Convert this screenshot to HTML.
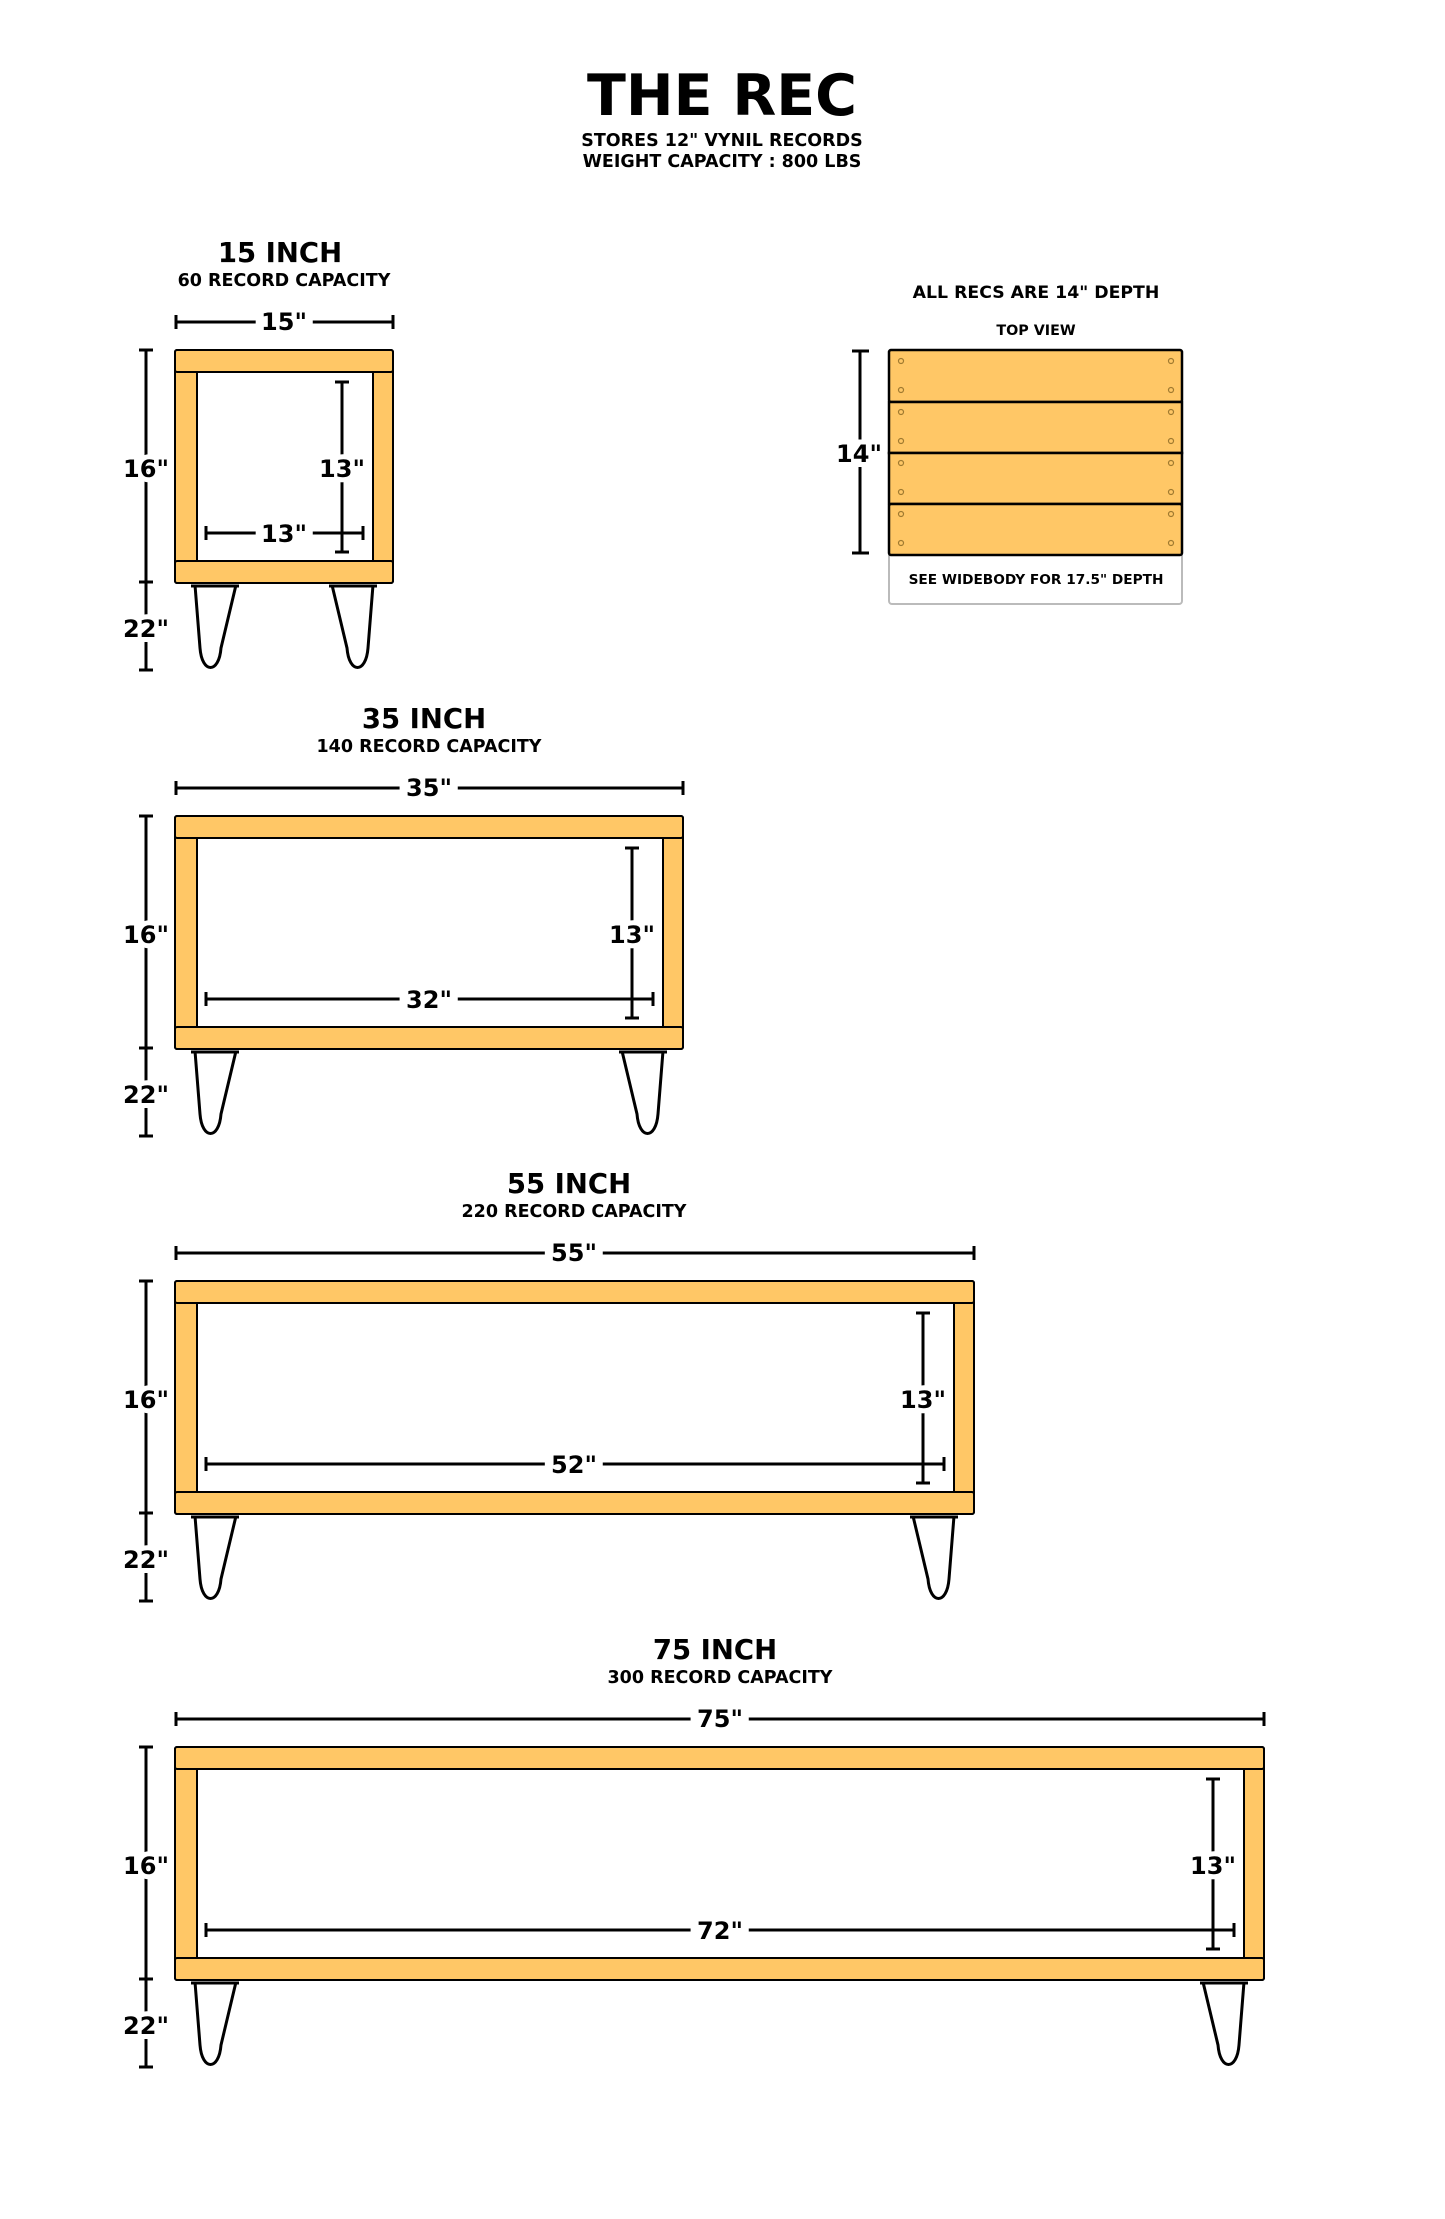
<!DOCTYPE html>
<html><head><meta charset="utf-8"><style>
html,body{margin:0;padding:0;background:#fff}
svg{display:block}
text{font-family:"DejaVu Sans","Liberation Sans",sans-serif;font-weight:bold;fill:#000;text-anchor:middle}
.l{stroke:#fff;stroke-width:16;paint-order:stroke;stroke-linejoin:miter}
.v{stroke:#fff;stroke-width:10;paint-order:stroke;stroke-linejoin:miter}
</style></head><body>
<svg width="1445" height="2219" viewBox="0 0 1445 2219" xmlns="http://www.w3.org/2000/svg">
<text x="722" y="115" font-size="57">THE REC</text>
<text x="722" y="146" font-size="17.5">STORES 12" VYNIL RECORDS</text>
<text x="722" y="167" font-size="17.5">WEIGHT CAPACITY : 800 LBS</text>

<!-- top view -->
<text x="1036" y="298" font-size="17.3">ALL RECS ARE 14" DEPTH</text>
<text x="1036" y="335" font-size="14.3">TOP VIEW</text>
<rect x="889" y="350" width="293" height="254" rx="3" fill="#fff" stroke="#bbb" stroke-width="2"/>
<g stroke="#000" stroke-width="2.5" fill="#FFC766">
<rect x="889" y="350" width="293" height="52" rx="2"/>
<rect x="889" y="402" width="293" height="51"/>
<rect x="889" y="453" width="293" height="51"/>
<rect x="889" y="504" width="293" height="51" rx="2"/>
</g>
<g fill="none" stroke="#a07a30" stroke-width="1.2">
<circle cx="901" cy="361" r="2.5"/><circle cx="1171" cy="361" r="2.5"/><circle cx="901" cy="390" r="2.5"/><circle cx="1171" cy="390" r="2.5"/>
<circle cx="901" cy="412" r="2.5"/><circle cx="1171" cy="412" r="2.5"/><circle cx="901" cy="441" r="2.5"/><circle cx="1171" cy="441" r="2.5"/>
<circle cx="901" cy="463" r="2.5"/><circle cx="1171" cy="463" r="2.5"/><circle cx="901" cy="492" r="2.5"/><circle cx="1171" cy="492" r="2.5"/>
<circle cx="901" cy="514" r="2.5"/><circle cx="1171" cy="514" r="2.5"/><circle cx="901" cy="543" r="2.5"/><circle cx="1171" cy="543" r="2.5"/>
</g>
<text x="1036" y="584" font-size="13.7">SEE WIDEBODY FOR 17.5" DEPTH</text>
<g stroke="#000" stroke-width="3"><line x1="860" y1="351" x2="860" y2="553"/><line x1="852" y1="351" x2="869" y2="351"/><line x1="852" y1="553" x2="869" y2="553"/></g>
<text class="v" x="859" y="462" font-size="24">14"</text>

<!-- 15 -->
<g>
<text x="280" y="262" font-size="27.5">15 INCH</text>
<text x="284" y="286" font-size="17.5">60 RECORD CAPACITY</text>
<g stroke="#000" stroke-width="3" fill="none">
<line x1="176" y1="322" x2="393" y2="322"/><line x1="176" y1="315" x2="176" y2="329"/><line x1="393" y1="315" x2="393" y2="329"/>
</g>
<text class="l" x="284" y="330" font-size="24">15"</text>
<g stroke="#000" stroke-width="2" fill="#FFC766">
<rect x="175" y="350" width="218" height="233" rx="2"/>
<rect x="197" y="372" width="176" height="189" fill="#fff"/>
<rect x="175" y="350" width="218" height="22" rx="2"/>
<rect x="175" y="561" width="218" height="22" rx="2"/>
</g>
<g stroke="#000" stroke-width="3" fill="none">
<line x1="191" y1="586" x2="239" y2="586"/><line x1="329" y1="586" x2="377" y2="586"/>
<path d="M195 585 L200 648 C202 674 219 674 221 648 L236 585"/>
<path d="M332 585 L347 648 C349 674 366 674 368 648 L373 585"/>
<line x1="146" y1="350" x2="146" y2="670"/><line x1="139" y1="350" x2="153" y2="350"/><line x1="139" y1="582" x2="153" y2="582"/><line x1="139" y1="670" x2="153" y2="670"/>
<line x1="342" y1="382" x2="342" y2="552"/><line x1="335" y1="382" x2="349" y2="382"/><line x1="335" y1="552" x2="349" y2="552"/>
<line x1="206" y1="533" x2="363" y2="533"/><line x1="206" y1="526" x2="206" y2="540"/><line x1="363" y1="526" x2="363" y2="540"/>
</g>
<text class="v" x="146" y="477" font-size="24">16"</text>
<text class="v" x="146" y="637" font-size="24">22"</text>
<text class="v" x="342" y="477" font-size="24">13"</text>
<text class="l" x="284" y="542" font-size="24">13"</text>
</g>

<!-- 35 -->
<g transform="translate(0,466)">
<text x="424" y="262" font-size="27.5">35 INCH</text>
<text x="429" y="286" font-size="17.5">140 RECORD CAPACITY</text>
<g stroke="#000" stroke-width="3" fill="none">
<line x1="176" y1="322" x2="683" y2="322"/><line x1="176" y1="315" x2="176" y2="329"/><line x1="683" y1="315" x2="683" y2="329"/>
</g>
<text class="l" x="429" y="330" font-size="24">35"</text>
<g stroke="#000" stroke-width="2" fill="#FFC766">
<rect x="175" y="350" width="508" height="233" rx="2"/>
<rect x="197" y="372" width="466" height="189" fill="#fff"/>
<rect x="175" y="350" width="508" height="22" rx="2"/>
<rect x="175" y="561" width="508" height="22" rx="2"/>
</g>
<g stroke="#000" stroke-width="3" fill="none">
<line x1="191" y1="586" x2="239" y2="586"/><line x1="619" y1="586" x2="667" y2="586"/>
<path d="M195 585 L200 648 C202 674 219 674 221 648 L236 585"/>
<path d="M622 585 L637 648 C639 674 656 674 658 648 L663 585"/>
<line x1="146" y1="350" x2="146" y2="670"/><line x1="139" y1="350" x2="153" y2="350"/><line x1="139" y1="582" x2="153" y2="582"/><line x1="139" y1="670" x2="153" y2="670"/>
<line x1="632" y1="382" x2="632" y2="552"/><line x1="625" y1="382" x2="639" y2="382"/><line x1="625" y1="552" x2="639" y2="552"/>
<line x1="206" y1="533" x2="653" y2="533"/><line x1="206" y1="526" x2="206" y2="540"/><line x1="653" y1="526" x2="653" y2="540"/>
</g>
<text class="v" x="146" y="477" font-size="24">16"</text>
<text class="v" x="146" y="637" font-size="24">22"</text>
<text class="v" x="632" y="477" font-size="24">13"</text>
<text class="l" x="429" y="542" font-size="24">32"</text>
</g>

<!-- 55 -->
<g transform="translate(0,931)">
<text x="569" y="262" font-size="27.5">55 INCH</text>
<text x="574" y="286" font-size="17.5">220 RECORD CAPACITY</text>
<g stroke="#000" stroke-width="3" fill="none">
<line x1="176" y1="322" x2="974" y2="322"/><line x1="176" y1="315" x2="176" y2="329"/><line x1="974" y1="315" x2="974" y2="329"/>
</g>
<text class="l" x="574" y="330" font-size="24">55"</text>
<g stroke="#000" stroke-width="2" fill="#FFC766">
<rect x="175" y="350" width="799" height="233" rx="2"/>
<rect x="197" y="372" width="757" height="189" fill="#fff"/>
<rect x="175" y="350" width="799" height="22" rx="2"/>
<rect x="175" y="561" width="799" height="22" rx="2"/>
</g>
<g stroke="#000" stroke-width="3" fill="none">
<line x1="191" y1="586" x2="239" y2="586"/><line x1="910" y1="586" x2="958" y2="586"/>
<path d="M195 585 L200 648 C202 674 219 674 221 648 L236 585"/>
<path d="M913 585 L928 648 C930 674 947 674 949 648 L954 585"/>
<line x1="146" y1="350" x2="146" y2="670"/><line x1="139" y1="350" x2="153" y2="350"/><line x1="139" y1="582" x2="153" y2="582"/><line x1="139" y1="670" x2="153" y2="670"/>
<line x1="923" y1="382" x2="923" y2="552"/><line x1="916" y1="382" x2="930" y2="382"/><line x1="916" y1="552" x2="930" y2="552"/>
<line x1="206" y1="533" x2="944" y2="533"/><line x1="206" y1="526" x2="206" y2="540"/><line x1="944" y1="526" x2="944" y2="540"/>
</g>
<text class="v" x="146" y="477" font-size="24">16"</text>
<text class="v" x="146" y="637" font-size="24">22"</text>
<text class="v" x="923" y="477" font-size="24">13"</text>
<text class="l" x="574" y="542" font-size="24">52"</text>
</g>

<!-- 75 -->
<g transform="translate(0,1397)">
<text x="715" y="262" font-size="27.5">75 INCH</text>
<text x="720" y="286" font-size="17.5">300 RECORD CAPACITY</text>
<g stroke="#000" stroke-width="3" fill="none">
<line x1="176" y1="322" x2="1264" y2="322"/><line x1="176" y1="315" x2="176" y2="329"/><line x1="1264" y1="315" x2="1264" y2="329"/>
</g>
<text class="l" x="720" y="330" font-size="24">75"</text>
<g stroke="#000" stroke-width="2" fill="#FFC766">
<rect x="175" y="350" width="1089" height="233" rx="2"/>
<rect x="197" y="372" width="1047" height="189" fill="#fff"/>
<rect x="175" y="350" width="1089" height="22" rx="2"/>
<rect x="175" y="561" width="1089" height="22" rx="2"/>
</g>
<g stroke="#000" stroke-width="3" fill="none">
<line x1="191" y1="586" x2="239" y2="586"/><line x1="1200" y1="586" x2="1248" y2="586"/>
<path d="M195 585 L200 648 C202 674 219 674 221 648 L236 585"/>
<path d="M1203 585 L1218 648 C1220 674 1237 674 1239 648 L1244 585"/>
<line x1="146" y1="350" x2="146" y2="670"/><line x1="139" y1="350" x2="153" y2="350"/><line x1="139" y1="582" x2="153" y2="582"/><line x1="139" y1="670" x2="153" y2="670"/>
<line x1="1213" y1="382" x2="1213" y2="552"/><line x1="1206" y1="382" x2="1220" y2="382"/><line x1="1206" y1="552" x2="1220" y2="552"/>
<line x1="206" y1="533" x2="1234" y2="533"/><line x1="206" y1="526" x2="206" y2="540"/><line x1="1234" y1="526" x2="1234" y2="540"/>
</g>
<text class="v" x="146" y="477" font-size="24">16"</text>
<text class="v" x="146" y="637" font-size="24">22"</text>
<text class="v" x="1213" y="477" font-size="24">13"</text>
<text class="l" x="720" y="542" font-size="24">72"</text>
</g>
</svg>
</body></html>
